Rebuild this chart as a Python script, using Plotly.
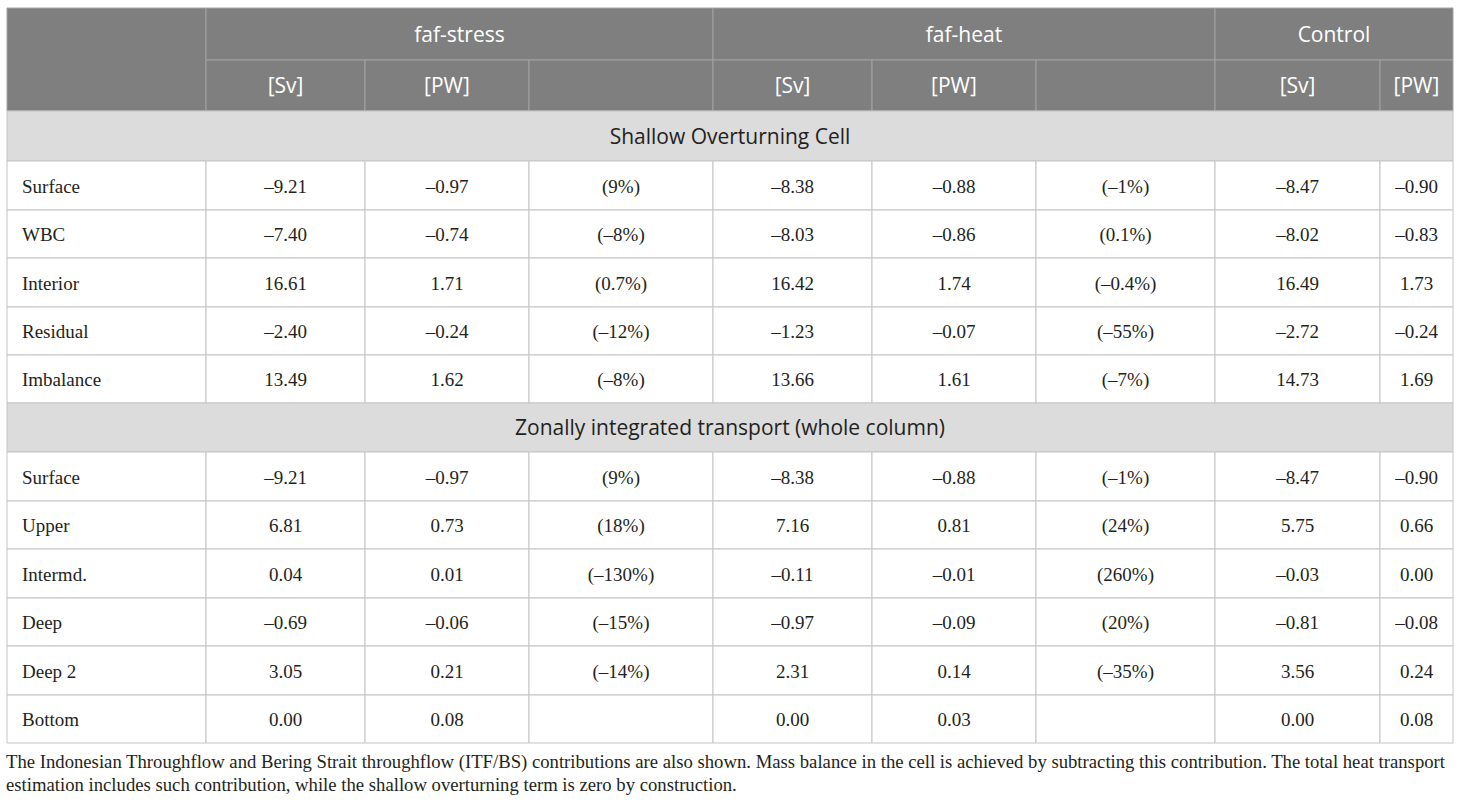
import plotly.graph_objects as go

# --- datos de la tabla ---
groups = ["faf-stress", "faf-heat", "Control"]
units = ["[Sv]", "[PW]", "", "[Sv]", "[PW]", "", "[Sv]", "[PW]"]
sections = ["Shallow Overturning Cell", "Zonally integrated transport (whole column)"]

rows_cell = ["Surface", "WBC", "Interior", "Residual", "Imbalance"]
stress_sv_cell = ["–9.21", "–7.40", "16.61", "–2.40", "13.49"]
stress_pw_cell = ["–0.97", "–0.74", "1.71", "–0.24", "1.62"]
stress_pct_cell = ["(9%)", "(–8%)", "(0.7%)", "(–12%)", "(–8%)"]
heat_sv_cell = ["–8.38", "–8.03", "16.42", "–1.23", "13.66"]
heat_pw_cell = ["–0.88", "–0.86", "1.74", "–0.07", "1.61"]
heat_pct_cell = ["(–1%)", "(0.1%)", "(–0.4%)", "(–55%)", "(–7%)"]
ctrl_sv_cell = ["–8.47", "–8.02", "16.49", "–2.72", "14.73"]
ctrl_pw_cell = ["–0.90", "–0.83", "1.73", "–0.24", "1.69"]

rows_zonal = ["Surface", "Upper", "Intermd.", "Deep", "Deep 2", "Bottom"]
stress_sv_zonal = ["–9.21", "6.81", "0.04", "–0.69", "3.05", "0.00"]
stress_pw_zonal = ["–0.97", "0.73", "0.01", "–0.06", "0.21", "0.08"]
stress_pct_zonal = ["(9%)", "(18%)", "(–130%)", "(–15%)", "(–14%)", ""]
heat_sv_zonal = ["–8.38", "7.16", "–0.11", "–0.97", "2.31", "0.00"]
heat_pw_zonal = ["–0.88", "0.81", "–0.01", "–0.09", "0.14", "0.03"]
heat_pct_zonal = ["(–1%)", "(24%)", "(260%)", "(20%)", "(–35%)", ""]
ctrl_sv_zonal = ["–8.47", "5.75", "–0.03", "–0.81", "3.56", "0.00"]
ctrl_pw_zonal = ["–0.90", "0.66", "0.00", "–0.08", "0.24", "0.08"]

footnote = [
    "The Indonesian Throughflow and Bering Strait throughflow (ITF/BS) contributions are also shown. "
    "Mass balance in the cell is achieved by subtracting this contribution. The total heat transport",
    "estimation includes such contribution, while the shallow overturning term is zero by construction.",
]

# --- geometria (pixeles) ---
W, H = 1460, 805
col_edges = [7, 206, 365, 529, 713, 872, 1036, 1215, 1380, 1453]
row_edges = [8, 60, 111, 161, 210, 258, 307, 355, 403, 452, 501, 549, 598, 646, 695, 743]
group_spans = [(1, 4), (4, 7), (7, 9)]
DY = 2.5  # pequeño ajuste vertical del texto

HEAD_BG = "#7f7f7f"
HEAD_LINE = "#a3a3a3"
SEC_BG = "#dcdcdc"
GRID = "#c4c4c4"
TXT = "#231f20"
SANS = "Open Sans"
SERIF = "Liberation Serif"

shapes = []


def cell(x0, x1, y0, y1, fill, line):
    shapes.append(dict(type="rect", xref="x", yref="y", x0=x0, x1=x1, y0=y0, y1=y1,
                       fillcolor=fill, line=dict(color=line, width=1), layer="below"))


# cabecera
cell(col_edges[0], col_edges[1], row_edges[0], row_edges[2], HEAD_BG, HEAD_LINE)
for a, b in group_spans:
    cell(col_edges[a], col_edges[b], row_edges[0], row_edges[1], HEAD_BG, HEAD_LINE)
for i in range(1, 9):
    cell(col_edges[i], col_edges[i + 1], row_edges[1], row_edges[2], HEAD_BG, HEAD_LINE)

# secciones y filas de datos
sec_rows = [2, 8]
for r in range(2, len(row_edges) - 1):
    if r in sec_rows:
        cell(col_edges[0], col_edges[-1], row_edges[r], row_edges[r + 1], SEC_BG, GRID)
    else:
        for i in range(9):
            cell(col_edges[i], col_edges[i + 1], row_edges[r], row_edges[r + 1], "white", GRID)


def mid(edges, i, j=None):
    j = i + 1 if j is None else j
    return (edges[i] + edges[j]) / 2


fig = go.Figure()

# textos de cabecera
fig.add_trace(go.Scatter(
    x=[mid(col_edges, a, b) for a, b in group_spans],
    y=[mid(row_edges, 0) + DY] * 3,
    text=groups, mode="text",
    textfont=dict(family=SANS, size=21, color="white"),
))
fig.add_trace(go.Scatter(
    x=[mid(col_edges, i) for i in range(1, 9)],
    y=[mid(row_edges, 1) + DY] * 8,
    text=units, mode="text",
    textfont=dict(family=SANS, size=21, color="white"),
))

# titulos de seccion
fig.add_trace(go.Scatter(
    x=[mid(col_edges, 0, 9)] * 2,
    y=[mid(row_edges, r) + DY for r in sec_rows],
    text=sections, mode="text",
    textfont=dict(family=SANS, size=21, color=TXT),
))

blocks = [
    (3, rows_cell, [stress_sv_cell, stress_pw_cell, stress_pct_cell, heat_sv_cell,
                    heat_pw_cell, heat_pct_cell, ctrl_sv_cell, ctrl_pw_cell]),
    (9, rows_zonal, [stress_sv_zonal, stress_pw_zonal, stress_pct_zonal, heat_sv_zonal,
                     heat_pw_zonal, heat_pct_zonal, ctrl_sv_zonal, ctrl_pw_zonal]),
]

for start, labels, cols in blocks:
    ys = [mid(row_edges, start + k) + DY for k in range(len(labels))]
    fig.add_trace(go.Scatter(
        x=[col_edges[0] + 15] * len(labels), y=ys, text=labels,
        mode="text", textposition="middle right",
        textfont=dict(family=SERIF, size=19, color=TXT),
    ))
    for i, vals in enumerate(cols):
        fig.add_trace(go.Scatter(
            x=[mid(col_edges, i + 1)] * len(vals), y=ys, text=vals,
            mode="text", textposition="middle center",
            textfont=dict(family=SERIF, size=19, color=TXT),
        ))

# nota al pie
fig.add_trace(go.Scatter(
    x=[col_edges[0] - 1] * 2, y=[761 + DY, 784 + DY], text=footnote,
    mode="text", textposition="middle right",
    textfont=dict(family=SERIF, size=18.7, color=TXT),
))

fig.update_layout(
    width=W, height=H,
    margin=dict(l=0, r=0, t=0, b=0),
    paper_bgcolor="white", plot_bgcolor="white",
    showlegend=False,
    shapes=shapes,
    xaxis=dict(range=[0, W], visible=False, fixedrange=True),
    yaxis=dict(range=[H, 0], visible=False, fixedrange=True),
    hovermode=False,
)

# quitar el margen por defecto del body para que la tabla quede en su sitio
fig.write_html(
    "out.html",
    config={"displayModeBar": False},
    post_script="document.body.style.margin='0';document.body.style.overflow='hidden';",
)
